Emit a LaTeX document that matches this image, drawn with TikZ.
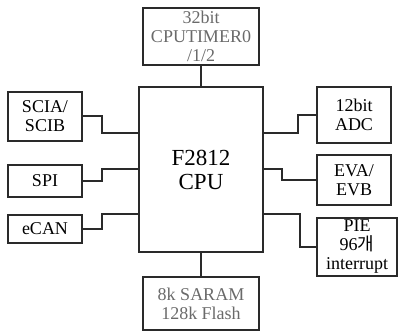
\documentclass[tikz,border=0pt]{standalone}
\usepackage{fontspec}
\setmainfont{Liberation Serif}
\newfontfamily\krfont{Noto Sans CJK KR}
\definecolor{Line}{HTML}{2A2A2A}
\definecolor{Faded}{HTML}{6A6A6A}

\tikzset{
  unit/.style={draw=Line, line width=2pt, align=center, inner sep=0pt,
    font=\fontsize{18}{19}\selectfont},
  fadedunit/.style={unit, text=Faded},
  link/.style={draw=Line, line width=2pt}
}

\begin{document}
\begin{tikzpicture}[x=1pt,y=-1pt]

  \useasboundingbox (0,0) rectangle (398,331);

  % core
  \node[unit, minimum width=124pt, minimum height=165pt,
    font=\fontsize{23}{24}\selectfont] (cpu) at (201,169.5) {F2812\\CPU};

  % top and bottom
  \node[fadedunit, minimum width=116pt, minimum height=57pt] (timer) at (201,36.5)
    {32bit\\CPUTIMER0\\/1/2};
  \node[fadedunit, minimum width=116pt, minimum height=53pt] (mem) at (201,303.5)
    {8k SARAM\\128k Flash};

  % left side
  \node[unit, minimum width=74pt, minimum height=49pt] (sci) at (45,116.5) {SCIA/\\SCIB};
  \node[unit, minimum width=74pt, minimum height=32pt] (spi) at (45,181) {SPI};
  \node[unit, minimum width=74pt, minimum height=28pt] (ecan) at (45,229) {eCAN};

  % right side
  \node[unit, minimum width=74pt, minimum height=56pt] (adc) at (354,115) {12bit\\ADC};
  \node[unit, minimum width=74pt, minimum height=50pt] (ev) at (354,180) {EVA/\\EVB};
  \node[unit, minimum width=80pt, minimum height=58pt] (pie) at (357,247)
    {PIE\\96{\krfont 개}\\interrupt};

  \draw[link] (timer) -- (cpu);
  \draw[link] (cpu) -- (mem);

  \draw[link] (sci.east) -- ++(19,0) |- (cpu.west |- 0,133);
  \draw[link] (spi.east) -- ++(19,0) |- (cpu.west |- 0,169);
  \draw[link] (ecan.east) -- ++(19,0) |- (cpu.west |- 0,214);

  \draw[link] (adc.west) -- ++(-18,0) |- (cpu.east |- 0,133);
  \draw[link] (ev.west) -- ++(-34,0) |- (cpu.east |- 0,169);
  \draw[link] (pie.west) -- ++(-16,0) |- (cpu.east |- 0,214);

\end{tikzpicture}
\end{document}
